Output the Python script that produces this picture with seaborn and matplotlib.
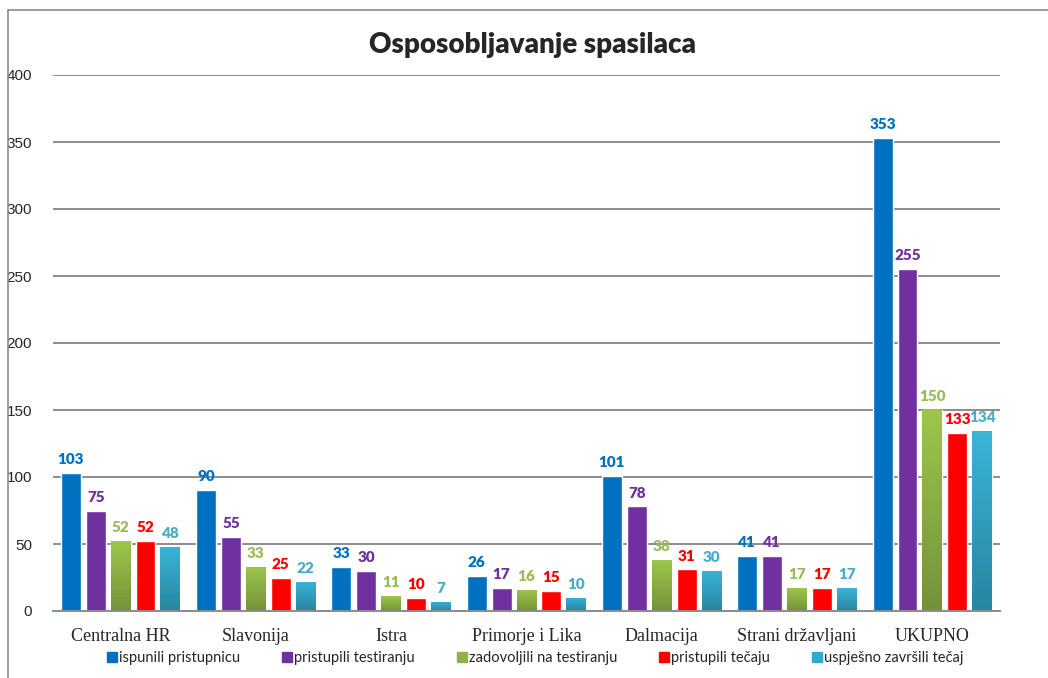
import numpy as np
import pandas as pd
import matplotlib
matplotlib.use("Agg")
import matplotlib.pyplot as plt
import seaborn as sns
from matplotlib.lines import Line2D
from matplotlib.colors import LinearSegmentedColormap

# data
regions = ["Centralna HR", "Slavonija", "Istra", "Primorje i Lika",
           "Dalmacija", "Strani državljani", "UKUPNO"]
series = ["ispunili pristupnicu", "pristupili testiranju",
          "zadovoljili na testiranju", "pristupili tečaju",
          "uspješno završili tečaj"]
ispunili = [103, 90, 33, 26, 101, 41, 353]
pristupili_test = [75, 55, 30, 17, 78, 41, 255]
zadovoljili = [52, 33, 11, 16, 38, 17, 150]
pristupili_tecaj = [52, 25, 10, 15, 31, 17, 133]
zavrsili = [48, 22, 7, 10, 30, 17, 134]

colors = ["#0070C0", "#7030A0", "#8FB24A", "#FF0000", "#33A8CC"]
label_colors = ["#0070C0", "#7030A0", "#9BBB59", "#FF0000", "#4BACC6"]
# vertical gradients (top, bottom) for the green and teal series
gradients = {2: ("#9DC54B", "#74923A"), 4: ("#3AB4D8", "#2886A0")}

values = [ispunili, pristupili_test, zadovoljili, pristupili_tecaj, zavrsili]
df = pd.DataFrame({
    "regija": np.repeat([regions], len(series), axis=0).ravel(),
    "serija": np.repeat(series, len(regions)),
    "broj": np.concatenate(values),
})

sns.set_style("white")
fig = plt.figure(figsize=(10.48, 6.78), dpi=100)
ax = fig.add_axes([53 / 1048, 1 - 611 / 678, 947 / 1048, 536 / 678])

sns.barplot(data=df, x="regija", y="broj", hue="serija", order=regions,
            hue_order=series, palette=colors, width=0.92, gap=0.2,
            saturation=1, ax=ax, legend=False)

for i, cont in enumerate(ax.containers):
    if i in gradients:
        top, bottom = gradients[i]
        cmap = LinearSegmentedColormap.from_list("g", [bottom, top])
        for p in cont.patches:
            x0, y0 = p.get_x(), p.get_y()
            w, h = p.get_width(), p.get_height()
            im = ax.imshow(np.linspace(0, 1, 64).reshape(-1, 1), cmap=cmap,
                           origin="lower", aspect="auto",
                           extent=[x0, x0 + w, y0, y0 + h], zorder=p.get_zorder() + 0.1)
            im.set_clip_path(p)
    ax.bar_label(cont, padding=5, color=label_colors[i], fontweight="heavy",
                 fontsize=11, family="Lato")

ax.set_xlim(-0.5, len(regions) - 0.5)
ax.set_ylim(0, 400)
ax.set_yticks(range(0, 401, 50))
ax.yaxis.grid(True, color="#8C8C8C", linewidth=1.4)
ax.set_axisbelow(True)
for s in ["top", "right", "left"]:
    ax.spines[s].set_visible(False)
ax.spines["bottom"].set_color("#8C8C8C")
ax.spines["bottom"].set_linewidth(1.4)

ax.set_xticks(range(len(regions)))
ax.set_xticklabels(regions, family="Liberation Serif", fontsize=13)
ax.set_xticks(np.arange(-0.5, len(regions), 1), minor=True)
ax.tick_params(axis="x", which="major", length=0, pad=12)
ax.tick_params(axis="x", which="minor", length=6, color="#8C8C8C", width=1.4)
ax.tick_params(axis="y", length=0, pad=15, labelsize=11)
for t in ax.get_yticklabels():
    t.set_family("Liberation Sans")
ax.set_xlabel("")
ax.set_ylabel("")

fig.text(533 / 1048, 1 - 45 / 678, "Osposobljavanje spasilaca", ha="center",
         va="center", fontsize=20, fontweight="heavy", family="Lato")

handles = [Line2D([], [], marker="s", linestyle="", markersize=7,
                  markerfacecolor=c, markeredgecolor=c) for c in colors]
fig.legend(handles, series, loc="center", bbox_to_anchor=(535 / 1048, 1 - 658 / 678),
           ncol=5, frameon=False, prop={"family": "Lato", "size": 10.5},
           handletextpad=0.1, columnspacing=2.8, handlelength=0.8)

# outer chart border (left and top visible in reference)
fig.add_artist(Line2D([8 / 1048, 8 / 1048], [0, 1 - 10 / 678], transform=fig.transFigure,
                      color="#8C8C8C", linewidth=1.2))
fig.add_artist(Line2D([8 / 1048, 1], [1 - 10 / 678, 1 - 10 / 678], transform=fig.transFigure,
                      color="#8C8C8C", linewidth=1.2))

fig.savefig("out.png", dpi=100)
